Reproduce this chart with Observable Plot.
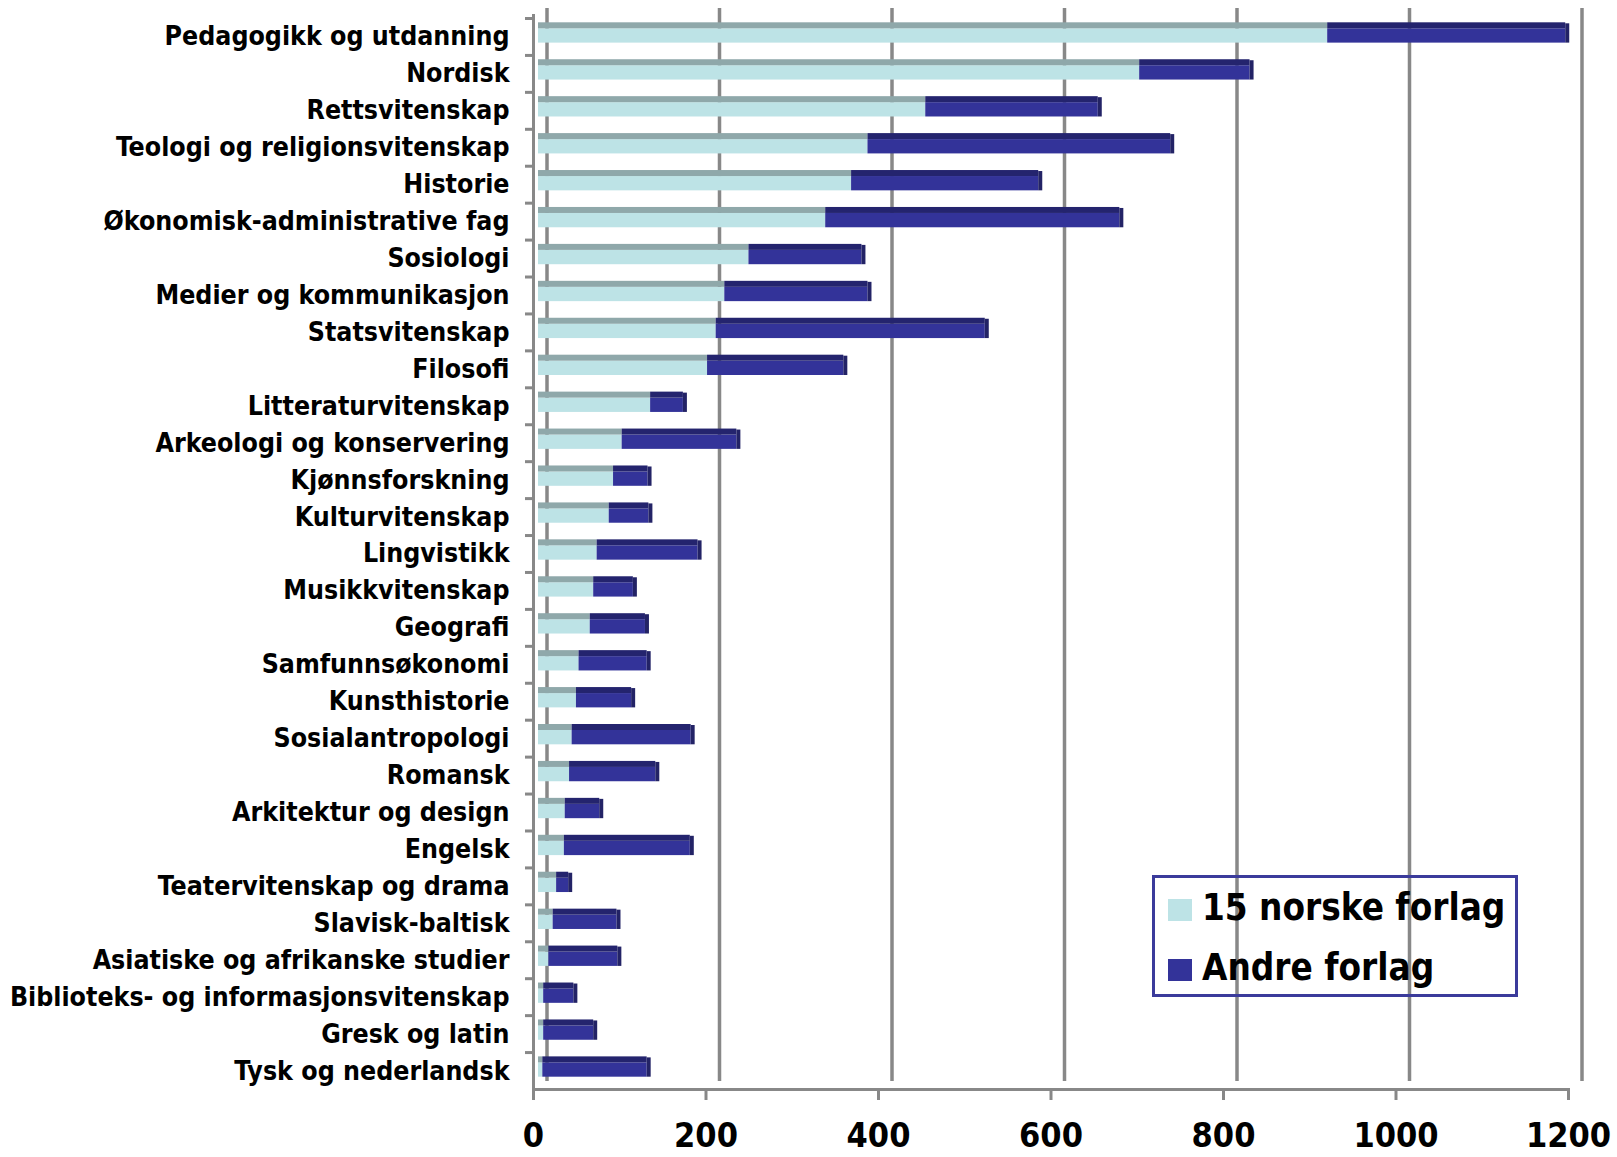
<!DOCTYPE html>
<html>
<head>
<meta charset="utf-8">
<script src="https://cdn.jsdelivr.net/npm/d3@7"></script>
<script src="https://cdn.jsdelivr.net/npm/@observablehq/plot@0.6"></script>
<style>
  html, body { margin: 0; padding: 0; background: #fff; }
  #wrap { position: relative; width: 1617px; height: 1157px; }
  #chart svg { display: block; font-stretch: condensed; }
  #legend {
    position: absolute; left: 1152px; top: 875px; width: 366px; height: 122px;
    box-sizing: border-box; border: 3px solid #3b3b9b;
    font-family: "DejaVu Sans Condensed", "DejaVu Sans", sans-serif; font-stretch: condensed;
    font-weight: bold; font-size: 36.5px; color: #000;
  }
  .item { position: absolute; left: 13px; display: flex; align-items: center; height: 40px; }
  .sw { width: 24px; height: 22px; margin-right: 10px; }
</style>
</head>
<body>
<div id="wrap">
  <div id="chart"></div>
  <div id="legend"></div>
</div>
<script>
const categories = [
  "Pedagogikk og utdanning", "Nordisk", "Rettsvitenskap", "Teologi og religionsvitenskap",
  "Historie", "Økonomisk-administrative fag", "Sosiologi", "Medier og kommunikasjon",
  "Statsvitenskap", "Filosofi", "Litteraturvitenskap", "Arkeologi og konservering",
  "Kjønnsforskning", "Kulturvitenskap", "Lingvistikk", "Musikkvitenskap", "Geografi",
  "Samfunnsøkonomi", "Kunsthistorie", "Sosialantropologi", "Romansk", "Arkitektur og design",
  "Engelsk", "Teatervitenskap og drama", "Slavisk-baltisk", "Asiatiske og afrikanske studier",
  "Biblioteks- og informasjonsvitenskap", "Gresk og latin", "Tysk og nederlandsk"
];
const norske = [915, 697, 449, 382, 363, 333, 244, 216, 206, 196, 130, 97, 87, 82, 68, 64, 60, 47, 44, 39, 36, 31, 30, 21, 17, 12, 6, 6, 5];
const andre  = [276, 128, 200, 351, 217, 341, 131, 166, 312, 158, 38, 133, 40, 46, 117, 46, 64, 79, 64, 138, 100, 40, 146, 14, 74, 80, 35, 58, 121];
const series = ["15 norske forlag", "Andre forlag"];
const xTicks = [0, 200, 400, 600, 800, 1000, 1200];

const colors = ["#BDE3E6", "#333399"];
const topColors = ["#8FA8AA", "#24246E"];
const grid = "#888888";
const font = '"DejaVu Sans Condensed", "DejaVu Sans", sans-serif';

const rows = categories.map((c, i) => ({cat: c, norske: norske[i], andre: andre[i], total: norske[i] + andre[i]}));

const W = 1617, H = 1157;
const mTop = 8, mBottom = 68, mLeft = 533, mRight = 49, yInset = 10;
const step = (H - mTop - mBottom - yInset) / categories.length;

const barOpts = {y: "cat", dx: 5, dy: -4};

const chart = Plot.plot({
  width: W, height: H,
  marginTop: mTop, marginBottom: mBottom, marginLeft: mLeft, marginRight: mRight,
  x: {domain: [0, 1200], label: null},
  y: {domain: categories, paddingInner: 0.45, paddingOuter: 0.225, insetTop: yInset, round: false, label: null},
  style: {fontFamily: font, background: "#fff", color: "#000"},
  marks: [
    Plot.ruleX(xTicks, {stroke: grid, strokeWidth: 3.5, dx: 13.5, insetBottom: 8}),
    Plot.ruleX([0], {stroke: grid, strokeWidth: 3, insetTop: 6}),
    Plot.frame({anchor: "bottom", stroke: grid, strokeWidth: 3}),
    // front faces
    Plot.barX(rows, {...barOpts, x1: 0, x2: "norske", fill: colors[0], insetTop: 6}),
    Plot.barX(rows, {...barOpts, x1: "norske", x2: "total", fill: colors[1], insetTop: 6}),
    // top faces
    Plot.barX(rows, {...barOpts, x1: 0, x2: "norske", fill: topColors[0], insetBottom: step * 0.55 - 6}),
    Plot.barX(rows, {...barOpts, x1: "norske", x2: "total", fill: topColors[1], insetBottom: step * 0.55 - 6}),
    // end caps
    Plot.barX(rows, {...barOpts, x1: "total", x2: "total", fill: "#232366", insetRight: -4, insetTop: 1}),
    Plot.axisY({tickSize: 8, stroke: grid, strokeWidth: 3, dy: -step / 2, tickFormat: () => "", label: null}),
    Plot.axisY({tickSize: 0, tickPadding: 24, fontSize: 26.5, fontWeight: "bold", fill: "#000", label: null}),
    Plot.axisX({ticks: xTicks, tickSize: 11, tickPadding: 22, stroke: grid, strokeWidth: 3, label: null,
                fill: "#000", fontSize: 34, fontWeight: "bold", tickFormat: d => String(d)})
  ]
});
document.getElementById("chart").appendChild(chart);

const legend = document.getElementById("legend");
series.forEach((s, i) => {
  const it = document.createElement("div");
  it.className = "item";
  it.style.top = (9 + i * 60) + "px";
  const sw = document.createElement("div");
  sw.className = "sw";
  sw.style.background = colors[i];
  sw.style.marginTop = "6px";
  const tx = document.createElement("span");
  tx.textContent = s;
  it.appendChild(sw); it.appendChild(tx);
  legend.appendChild(it);
});
</script>
</body>
</html>
